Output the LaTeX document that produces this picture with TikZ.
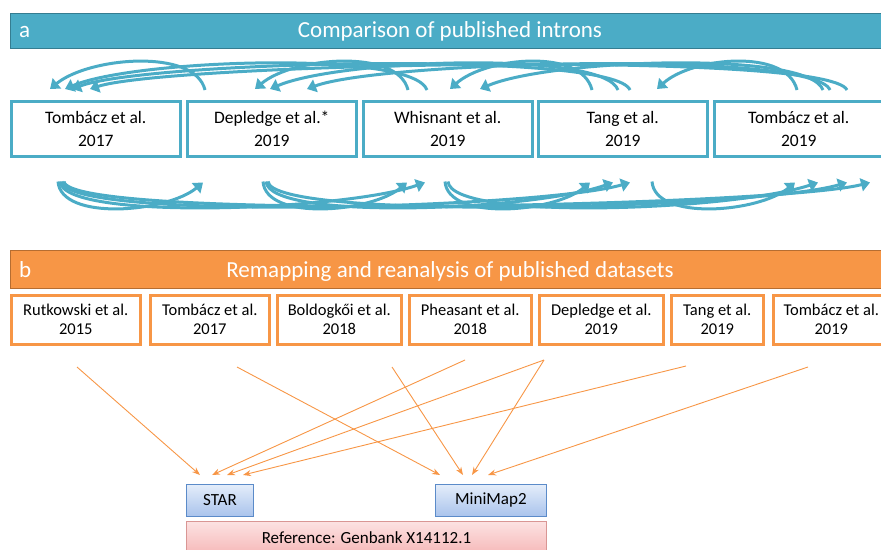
\documentclass[tikz,border=0pt]{standalone}
\usepackage{fontspec}
\setmainfont{Carlito}
\usetikzlibrary{arrows.meta,calc}
\definecolor{teal1}{HTML}{4BACC6}
\definecolor{teal2}{HTML}{357D91}
\definecolor{org1}{HTML}{F79646}
\definecolor{org2}{HTML}{B66D31}
\definecolor{mapT}{HTML}{E4EDFA}
\definecolor{mapB}{HTML}{A9C3EC}
\definecolor{mapD}{HTML}{5B8BC9}
\definecolor{refT}{HTML}{FCE2E2}
\definecolor{refB}{HTML}{F6B8B8}
\definecolor{refD}{HTML}{D99694}
\begin{document}
\begin{tikzpicture}[x=1pt,y=-1pt,
  hdrA/.style={anchor=north west,inner sep=0pt,minimum height=35pt,minimum width=880pt,fill=teal1,draw=teal2,line width=1.2pt},
  hdrB/.style={anchor=north west,inner sep=0pt,minimum height=38pt,minimum width=880pt,fill=org1,draw=org2,line width=1.2pt},
  hdrtxt/.style={text=white,font=\fontsize{23}{26}\selectfont,inner sep=0pt},
  boxA/.style={anchor=north west,draw=teal1,fill=white,line width=2.5pt,minimum width=169pt,minimum height=55pt,align=center,inner sep=0pt,font=\fontsize{17.5}{22.5}\selectfont},
  boxB/.style={anchor=north west,draw=org1,fill=white,line width=2.5pt,minimum height=49pt,align=center,inner sep=0pt,font=\fontsize{16.5}{19}\selectfont},
  mapbox/.style={anchor=north west,draw=mapD,line width=0.9pt,top color=mapT,bottom color=mapB,minimum height=32pt,inner sep=0pt,font=\fontsize{17}{20}\selectfont},
  refbox/.style={anchor=north west,draw=refD,line width=0.9pt,top color=refT,bottom color=refB,minimum height=33pt,minimum width=360pt,inner sep=0pt,font=\fontsize{17}{20}\selectfont},
  arcA/.style={draw=teal1,line width=3pt,-{Triangle[width=13pt,length=9pt]}},
  oarr/.style={draw=org1,line width=0.9pt,-{Stealth[length=8pt,width=6pt]}}
]
\useasboundingbox (0,0) rectangle (881,549);

% ---------- section a ----------
\node[hdrA] (HA) at (10,13) {};
\node[hdrtxt,anchor=base west] (HAl) at (19,37) {a};
\node[hdrtxt,anchor=base] (HAt) at (450,37) {Comparison of published introns};

\node[boxA] (A1) at (10,100)  {Tombácz et al.\\2017};
\node[boxA] (A2) at (186,100) {Depledge et al.*\\2019};
\node[boxA] (A3) at (362,100) {Whisnant et al.\\2019};
\node[boxA] (A4) at (537,100) {Tang et al.\\2019};
\node[boxA] (A5) at (713,100) {Tombácz et al.\\2019};

% top arcs: later study -> earlier study
\draw[arcA] ([xshift=19pt,yshift=10pt]A2.north west)  .. controls +(-10,-42) and +(39,-32) .. ([xshift=40pt,yshift=11pt]A1.north west);
\draw[arcA] ([xshift=46pt,yshift=10pt]A3.north west)  .. controls +(-10,-42) and +(38,-32) .. ([xshift=69pt,yshift=11pt]A2.north west);
\draw[arcA] ([xshift=65pt,yshift=10pt]A3.north west)  .. controls +(-14,-40) and +(70,-30) .. ([xshift=55pt,yshift=11pt]A1.north west);
\draw[arcA] ([xshift=55pt,yshift=10pt]A4.north west)  .. controls +(-10,-42) and +(36,-32) .. ([xshift=88pt,yshift=11pt]A3.north west);
\draw[arcA] ([xshift=81pt,yshift=10pt]A4.north west)  .. controls +(-14,-40) and +(70,-30) .. ([xshift=84pt,yshift=11pt]A2.north west);
\draw[arcA] ([xshift=93pt,yshift=10pt]A4.north west)  .. controls +(-16,-40) and +(75,-28) .. ([xshift=62pt,yshift=11pt]A1.north west);
\draw[arcA] ([xshift=84pt,yshift=10pt]A5.north west)  .. controls +(-10,-42) and +(35,-32) .. ([xshift=120pt,yshift=11pt]A4.north west);
\draw[arcA] ([xshift=110pt,yshift=10pt]A5.north west) .. controls +(-14,-40) and +(70,-30) .. ([xshift=118pt,yshift=11pt]A3.north west);
\draw[arcA] ([xshift=117pt,yshift=10pt]A5.north west) .. controls +(-16,-40) and +(75,-28) .. ([xshift=121pt,yshift=11pt]A2.north west);
\draw[arcA] ([xshift=134pt,yshift=10pt]A5.north west) .. controls +(-18,-40) and +(80,-26) .. ([xshift=80pt,yshift=11pt]A1.north west);

% bottom arcs: earlier study -> later study
\draw[arcA] ([xshift=48pt,yshift=-24pt]A1.south west)  .. controls +(3,40) and +(-36,30) .. ([xshift=17pt,yshift=-25pt]A2.south west);
\draw[arcA] ([xshift=77pt,yshift=-24pt]A2.south west)  .. controls +(3,40) and +(-36,30) .. ([xshift=45pt,yshift=-25pt]A3.south west);
\draw[arcA] ([xshift=50pt,yshift=-24pt]A1.south west)  .. controls +(3,40) and +(-80,28) .. ([xshift=63pt,yshift=-25pt]A3.south west);
\draw[arcA] ([xshift=83pt,yshift=-24pt]A3.south west)  .. controls +(3,40) and +(-36,30) .. ([xshift=53pt,yshift=-25pt]A4.south west);
\draw[arcA] ([xshift=80pt,yshift=-24pt]A2.south west)  .. controls +(3,40) and +(-80,28) .. ([xshift=76pt,yshift=-25pt]A4.south west);
\draw[arcA] ([xshift=52pt,yshift=-24pt]A1.south west)  .. controls +(3,40) and +(-90,26) .. ([xshift=93pt,yshift=-25pt]A4.south west);
\draw[arcA] ([xshift=115pt,yshift=-24pt]A4.south west) .. controls +(3,40) and +(-36,30) .. ([xshift=82pt,yshift=-25pt]A5.south west);
\draw[arcA] ([xshift=86pt,yshift=-24pt]A3.south west)  .. controls +(3,40) and +(-85,28) .. ([xshift=105pt,yshift=-25pt]A5.south west);
\draw[arcA] ([xshift=82pt,yshift=-24pt]A2.south west)  .. controls +(3,40) and +(-90,26) .. ([xshift=134pt,yshift=-25pt]A5.south west);
\draw[arcA] ([xshift=54pt,yshift=-24pt]A1.south west)  .. controls +(3,40) and +(-95,24) .. ([xshift=157pt,yshift=-25pt]A5.south west);

% ---------- section b ----------
\node[hdrB] (HB) at (10,250) {};
\node[hdrtxt,anchor=base west] (HBl) at (19,277) {b};
\node[hdrtxt,anchor=base] (HBt) at (450,277) {Remapping and reanalysis of published datasets};

\node[boxB,minimum width=129pt] (B1) at (10,294)  {Rutkowski et al.\\2015};
\node[boxB,minimum width=119pt] (B2) at (149,294) {Tombácz et al.\\2017};
\node[boxB,minimum width=124pt] (B3) at (276,294) {Boldogkői et al.\\2018};
\node[boxB,minimum width=122pt] (B4) at (408,294) {Pheasant et al.\\2018};
\node[boxB,minimum width=124pt] (B5) at (538,294) {Depledge et al.\\2019};
\node[boxB,minimum width=92pt]  (B6) at (670,294) {Tang et al.\\2019};
\node[boxB,minimum width=116pt] (B7) at (772,294) {Tombácz et al.\\2019};

\node[mapbox,minimum width=67pt]  (STAR) at (186,484) {STAR};
\node[mapbox,minimum width=111pt] (MM)   at (435,484) {MiniMap2};
\node[refbox] (REF) at (186,521) {Reference: Genbank X14112.1};

\coordinate (s1) at (77,367);
\coordinate (s2) at (237,367);
\coordinate (s3) at (392,367);
\coordinate (s4) at (465,360);
\coordinate (s5) at (544,360);
\coordinate (s6) at (686,366);
\coordinate (s7) at (808,367);

\draw[oarr] (s1) -- ([xshift=14pt,yshift=9pt]STAR.north west);
\draw[oarr] (s4) -- ([xshift=26pt,yshift=9pt]STAR.north west);
\draw[oarr] (s5) -- ([xshift=41pt,yshift=9pt]STAR.north west);
\draw[oarr] (s6) -- ([xshift=57pt,yshift=9pt]STAR.north west);
\draw[oarr] (s2) -- ([xshift=5pt,yshift=9pt]MM.north west);
\draw[oarr] (s3) -- ([xshift=28pt,yshift=9pt]MM.north west);
\draw[oarr] (s5) -- ([xshift=37pt,yshift=9pt]MM.north west);
\draw[oarr] (s7) -- ([xshift=53pt,yshift=9pt]MM.north west);
\end{tikzpicture}
\end{document}
